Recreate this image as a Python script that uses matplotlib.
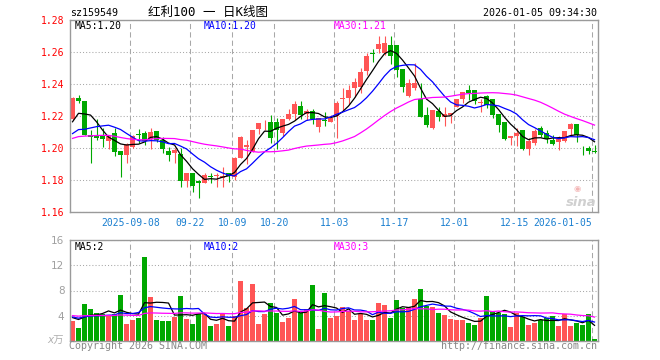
# %%
import numpy as np
import pandas as pd
import matplotlib
matplotlib.use("Agg")
import matplotlib.pyplot as plt

plt.rcParams["font.family"] = ["DejaVu Sans Mono", "Noto Sans CJK SC"]

# %%
## Data
START, END = "2025-08-25", "2026-01-05"
HOLIDAYS = ["2025-10-01", "2025-10-02", "2025-10-03", "2025-10-06",
            "2025-10-07", "2025-10-08", "2026-01-01", "2026-01-02"]

opens = [1.2180, 1.2314, 1.2294, 1.2081, 1.2075, 1.2075, 1.2046, 1.2096, 1.1981, 1.1958,
         1.2008, 1.2088, 1.2096, 1.2055, 1.2106, 1.2050, 1.1981, 1.1966, 1.1963, 1.1796,
         1.1846, 1.1796, 1.1783, 1.1822, 1.1822, 1.1815, 1.1842, 1.1821, 1.1935, 1.2008,
         1.1977, 1.2121, 1.2166, 1.2164, 1.2164, 1.2096, 1.2179, 1.2213, 1.2263, 1.2213,
         1.2233, 1.2133, 1.2175, 1.2164, 1.2200, 1.2309, 1.2311, 1.2373, 1.2383, 1.2483,
         1.2596, 1.2617, 1.2592, 1.2644, 1.2644, 1.2492, 1.2325, 1.2373, 1.2304, 1.2206,
         1.2123, 1.2233, 1.2196, 1.2206, 1.2258, 1.2304, 1.2363, 1.2363, 1.2283, 1.2325,
         1.2304, 1.2213, 1.2164, 1.2061, 1.2075, 1.2113, 1.1994, 1.2033, 1.2123, 1.2096,
         1.2050, 1.2039, 1.2046, 1.2117, 1.2148, 1.2013, 1.1998, 1.1980]
highs = [1.2316, 1.2333, 1.2296, 1.2113, 1.2181, 1.2127, 1.2075, 1.2123, 1.1981, 1.2031,
         1.2080, 1.2117, 1.2106, 1.2127, 1.2106, 1.2071, 1.2008, 1.2000, 1.2000, 1.1846,
         1.1846, 1.1800, 1.1846, 1.1846, 1.1846, 1.1880, 1.1842, 1.1944, 1.2075, 1.2050,
         1.2113, 1.2158, 1.2175, 1.2206, 1.2185, 1.2179, 1.2242, 1.2296, 1.2296, 1.2242,
         1.2242, 1.2185, 1.2227, 1.2206, 1.2296, 1.2377, 1.2394, 1.2435, 1.2498, 1.2592,
         1.2617, 1.2700, 1.2700, 1.2700, 1.2644, 1.2492, 1.2429, 1.2529, 1.2404, 1.2258,
         1.2238, 1.2258, 1.2254, 1.2221, 1.2308, 1.2352, 1.2394, 1.2363, 1.2304, 1.2331,
         1.2304, 1.2213, 1.2164, 1.2075, 1.2123, 1.2113, 1.2061, 1.2117, 1.2138, 1.2113,
         1.2081, 1.2075, 1.2108, 1.2158, 1.2148, 1.2013, 1.2013, 1.2019]
lows = [1.2178, 1.2279, 1.2080, 1.1908, 1.2050, 1.2008, 1.1994, 1.1950, 1.1821, 1.1908,
        1.2000, 1.2031, 1.2019, 1.1992, 1.2040, 1.1971, 1.1916, 1.1908, 1.1758, 1.1758,
        1.1727, 1.1689, 1.1779, 1.1779, 1.1756, 1.1754, 1.1790, 1.1803, 1.1935, 1.1900,
        1.1977, 1.2090, 1.2110, 1.2029, 1.1994, 1.2076, 1.2175, 1.2175, 1.2179, 1.2175,
        1.2148, 1.2102, 1.2138, 1.2160, 1.2061, 1.2238, 1.2275, 1.2321, 1.2342, 1.2456,
        1.2540, 1.2592, 1.2579, 1.2525, 1.2446, 1.2352, 1.2321, 1.2363, 1.2192, 1.2133,
        1.2119, 1.2171, 1.2138, 1.2158, 1.2254, 1.2279, 1.2300, 1.2275, 1.2227, 1.2248,
        1.2185, 1.2102, 1.2048, 1.2019, 1.2013, 1.1988, 1.1956, 1.2019, 1.2067, 1.2029,
        1.2019, 1.1988, 1.2040, 1.2075, 1.2040, 1.1956, 1.1963, 1.1970]
closes = [1.2314, 1.2296, 1.2081, 1.2067, 1.2060, 1.2058, 1.2075, 1.1977, 1.1958, 1.2025,
          1.2077, 1.2082, 1.2046, 1.2102, 1.2050, 1.1996, 1.1959, 1.1988, 1.1796, 1.1846,
          1.1763, 1.1783, 1.1831, 1.1818, 1.1831, 1.1825, 1.1827, 1.1935, 1.2066, 1.2018,
          1.2113, 1.2158, 1.2171, 1.2061, 1.2113, 1.2179, 1.2213, 1.2275, 1.2206, 1.2233,
          1.2179, 1.2185, 1.2169, 1.2185, 1.2283, 1.2311, 1.2363, 1.2414, 1.2477, 1.2575,
          1.2588, 1.2650, 1.2656, 1.2575, 1.2488, 1.2379, 1.2404, 1.2404, 1.2196, 1.2144,
          1.2238, 1.2196, 1.2213, 1.2217, 1.2304, 1.2352, 1.2346, 1.2296, 1.2288, 1.2269,
          1.2206, 1.2144, 1.2054, 1.2075, 1.2096, 1.1992, 1.2044, 1.2108, 1.2081, 1.2054,
          1.2025, 1.2054, 1.2108, 1.2148, 1.2079, 1.2010, 1.1983, 1.1975]
volumes = [3.2, 2.0, 5.87, 5.07, 4.43, 4.3, 4.05, 4.3, 7.3, 2.67,
           3.3, 3.63, 13.4, 7.0, 3.3, 3.15, 3.15, 3.8, 7.15, 3.47,
           2.67, 4.27, 4.3, 2.35, 2.67, 4.27, 2.35, 3.95, 9.55, 5.23,
           9.07, 2.67, 4.27, 6.03, 4.43, 2.99, 3.63, 6.67, 4.43, 5.07,
           8.9, 1.87, 7.63, 3.63, 4.0, 5.39, 4.75, 3.3, 4.27, 3.3,
           3.3, 6.03, 5.7, 3.63, 6.5, 5.23, 5.39, 6.67, 8.27, 5.55,
           5.39, 4.43, 4.1, 3.47, 3.3, 3.3, 2.83, 2.5, 3.63, 7.15,
           4.75, 4.43, 4.27, 2.19, 4.43, 3.79, 2.5, 2.83, 3.3, 3.63,
           3.95, 2.35, 4.27, 2.35, 2.83, 2.5, 4.27, 0.27]

# 29 sessions before the window, needed so the moving averages start at the left edge
prior_close = [1.196, 1.199, 1.201, 1.200, 1.203, 1.208, 1.214, 1.219, 1.222, 1.2232,
               1.215, 1.206, 1.198, 1.195, 1.1956, 1.197, 1.201, 1.199, 1.196, 1.2022,
               1.2045, 1.2062, 1.1985, 1.1978, 1.2011, 1.2031, 1.2101, 1.2102, 1.2271]
prior_vol = [4.6, 3.9, 4.4, 3.5, 4.8, 4.1, 3.7, 5.2, 3.6, 4.3,
             4.0, 3.8, 4.5, 3.9, 4.2, 3.6, 4.4, 4.1, 3.8, 3.8,
             3.9, 3.7, 3.8, 4.1, 3.9, 3.5, 3.9, 3.6, 4.2]

tick_dates = ["2025-09-08", "2025-09-22", "2025-10-09", "2025-10-20", "2025-11-03",
              "2025-11-17", "2025-12-01", "2025-12-15", "2026-01-05"]
tick_labels = ["2025-09-08", "09-22", "10-09", "10-20", "11-03",
               "11-17", "12-01", "12-15", "2026-01-05"]
price_ticks = [1.16, 1.18, 1.20, 1.22, 1.24, 1.26, 1.28]
vol_ticks = [4, 8, 12, 16]

RED, GREEN = "#FF5555", "#00A800"
MA_COLORS = {5: "black", 10: "#0000FF", 30: "#FF00FF"}
FRAME = "#9A9A9A"
GRID = "#A8A8A8"
XLAB = "#1A7FD0"

# %%
dates = pd.bdate_range(START, END)
dates = dates[~dates.isin(pd.to_datetime(HOLIDAYS))]
o, h, l, c = map(np.array, (opens, highs, lows, closes))
v = np.array(volumes)
x = np.arange(len(dates))
up = c >= o
col = np.where(up, RED, GREEN)
n0 = len(prior_close)
ma_p = {n: pd.Series(np.r_[prior_close, c]).rolling(n).mean().to_numpy()[n0:] for n in MA_COLORS}
ma_v = {n: pd.Series(np.r_[prior_vol, v]).rolling(n).mean().to_numpy()[n0:] for n in MA_COLORS}
tpos = np.array([dates.get_loc(pd.Timestamp(d)) for d in tick_dates]) - 0.35

# %%
W, H = 660, 360
fig = plt.figure(figsize=(6.6, 3.6), dpi=100)
ax = fig.add_axes([70 / W, 1 - 212 / H, 528 / W, 192 / H])
axv = fig.add_axes([70 / W, 1 - 340.7 / H, 528 / W, 100.4 / H])

def px(xp, yp):
    return xp / W, 1 - yp / H

for a in (ax, axv):
    a.set_xlim(-0.42, len(x) - 0.42)
    for s in a.spines.values():
        s.set_color(FRAME)
        s.set_linewidth(1.0)
    a.set_xticks(tpos)
    a.grid(axis="x", color=GRID, lw=0.75, linestyle=(0, (5, 3)))
    a.grid(axis="y", color=GRID, lw=0.75, linestyle=(0, (1, 2)))
    a.set_axisbelow(True)
    a.tick_params(length=0)

# candles
ax.vlines(x, l, h, colors=col, lw=0.8)
ax.bar(x, np.maximum(np.abs(c - o), 0.0004), bottom=np.minimum(o, c),
       width=0.82, color=col, lw=0)
for n, cl in MA_COLORS.items():
    ax.plot(x, ma_p[n], color=cl, lw=0.9)
ax.set_ylim(price_ticks[0], price_ticks[-1])
ax.set_yticks(price_ticks, [f"{t:.2f}" for t in price_ticks])
ax.tick_params(axis="y", colors="red", labelsize=7, pad=4)
ax.set_xticklabels(tick_labels, fontsize=7, color=XLAB)
ax.tick_params(axis="x", pad=4)
ax.get_xticklabels()[-1].set_horizontalalignment("right")
ax.get_xticklabels()[-1].set_x(tpos[-1] + 0.1)

# volume
axv.bar(x, v, width=0.84, color=col, lw=0)
for n, cl in MA_COLORS.items():
    axv.plot(x, ma_v[n], color=cl, lw=0.9)
axv.set_ylim(0, 16)
axv.set_yticks(vol_ticks, [str(t) for t in vol_ticks], family="DejaVu Sans")
axv.tick_params(axis="y", colors="#A0A0A0", labelsize=7.5, pad=4)
axv.set_xticklabels([])

# texts
fig.text(*px(70, 12.5), "sz159549", fontsize=7.2, va="center")
fig.text(*px(208, 12.5), "红利100 一 日K线图", fontsize=9, va="center", ha="center")
fig.text(*px(597, 12.5), "2026-01-05 09:34:30", fontsize=7.2, va="center", ha="right")
for xp, t, cl in [(75, "MA5:1.20", "black"), (204, "MA10:1.20", "#0000FF"), (334, "MA30:1.21", "#FF00FF")]:
    fig.text(*px(xp, 26), t, fontsize=7, color=cl, va="center")
for xp, t, cl in [(75, "MA5:2", "black"), (204, "MA10:2", "#0000FF"), (334, "MA30:3", "#FF00FF")]:
    fig.text(*px(xp, 246.5), t, fontsize=7, color=cl, va="center")
fig.text(*px(69, 346), "Copyright 2026 SINA.COM", fontsize=7.2, color="#888888", va="center")
fig.text(*px(597, 346), "http://finance.sina.com.cn", fontsize=7.2, color="#888888",
         va="center", ha="right")
fig.text(*px(64, 341), "x万", fontsize=7.5, color="#B0B0B0", style="italic",
         va="center", ha="right", family=["DejaVu Sans", "Noto Sans CJK SC"])
fig.text(*px(581, 202), "sina", fontsize=9.5, color="#D0D0D0", style="italic",
         weight="bold", va="center", ha="center", family="DejaVu Sans")
fig.text(*px(577, 188), "◉", fontsize=6, color="#F3B5B5", va="center", ha="center",
         family="DejaVu Sans")

fig.savefig("out.png", dpi=100)
